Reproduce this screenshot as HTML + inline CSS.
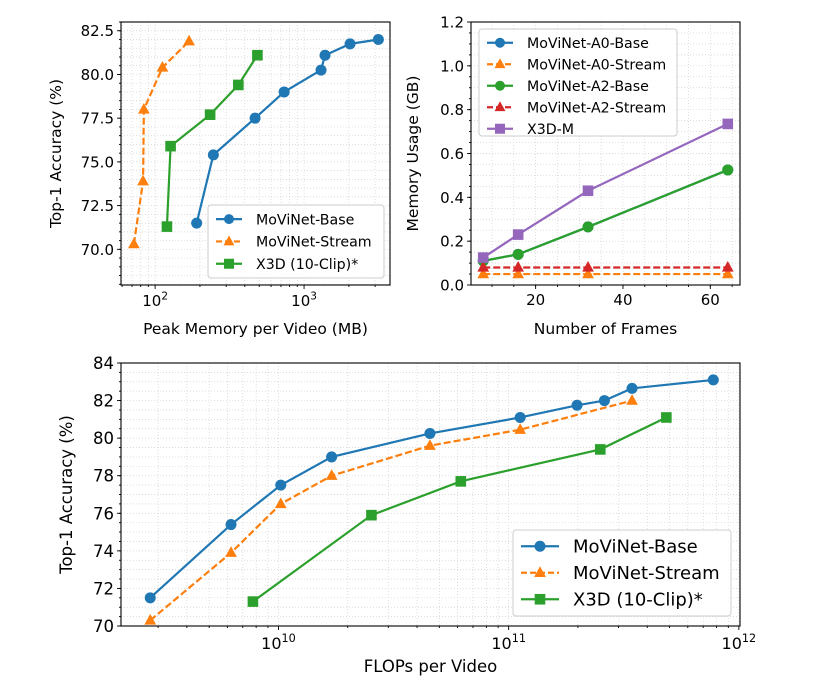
<!DOCTYPE html>
<html><head><meta charset="utf-8"><style>
body{margin:0;background:#fff}
svg{display:block;font-family:"DejaVu Sans","Liberation Sans",sans-serif}
</style></head><body>
<svg id="fig" width="832" height="685" viewBox="0 0 832 685" xmlns="http://www.w3.org/2000/svg"></svg>
<script>
// ---- Chart 1: accuracy vs peak memory ----
const memBaseX=[190,246,469,735,1300,1383,2037,3155];
const memBaseY=[71.5,75.4,77.5,79.0,80.25,81.1,81.75,82.0];
const memStreamX=[72,83,84,112,169];
const memStreamY=[70.3,73.9,78.0,80.4,81.9];
const memX3dX=[120,127,234,362,486];
const memX3dY=[71.3,75.9,77.7,79.4,81.1];
const memYTicks=[70.0,72.5,75.0,77.5,80.0,82.5];
// ---- Chart 2: memory vs frames ----
const frames=[8,16,32,64];
const a0Base=[0.11,0.14,0.265,0.525];
const a0Stream=[0.05,0.05,0.05,0.05];
const a2Base=[0.11,0.14,0.265,0.525];
const a2Stream=[0.08,0.08,0.08,0.08];
const x3dM=[0.125,0.23,0.43,0.735];
const frameTicks=[20,40,60];
const gbTicks=[0.0,0.2,0.4,0.6,0.8,1.0,1.2];
// ---- Chart 3: accuracy vs FLOPs (log10) ----
const flBaseX=[9.443,9.794,10.01,10.231,10.658,11.05,11.297,11.416,11.536,11.889];
const flBaseY=[71.5,75.4,77.5,79.0,80.25,81.1,81.75,82.0,82.65,83.1];
const flStreamX=[9.443,9.794,10.01,10.231,10.658,11.05,11.536];
const flStreamY=[70.3,73.9,76.5,78.0,79.6,80.45,82.0];
const flX3dX=[9.889,10.404,10.792,11.398,11.685];
const flX3dY=[71.3,75.9,77.7,79.4,81.1];
const flYTicks=[70,72,74,76,78,80,82,84];

const NS="http://www.w3.org/2000/svg";
const svg=document.getElementById('fig');
function el(tag,attrs,parent){const e=document.createElementNS(NS,tag);for(const k in attrs)e.setAttribute(k,attrs[k]);(parent||svg).appendChild(e);return e;}
const BLUE="#1f77b4",ORANGE="#ff7f0e",GREEN="#2ca02c",RED="#d62728",PURPLE="#9467bd";

function marker(g,type,x,y,c,s){
  let m;
  if(type==='o')m=el('circle',{cx:x,cy:y,r:s},g);
  else if(type==='s')m=el('rect',{x:x-s,y:y-s,width:2*s,height:2*s},g);
  else m=el('polygon',{points:`${x},${y-s*1.15} ${x-s*1.05},${y+s*0.75} ${x+s*1.05},${y+s*0.75}`},g);
  m.setAttribute('fill',c);
  
  
}
function series(name,xs,ys,sx,sy,c,type,dash,ms){
  const g=el('g',{});
  
  
  const pts=xs.map((v,i)=>sx(v)+','+sy(ys[i])).join(' ');
  const pl=el('polyline',{points:pts,fill:'none',stroke:c,'stroke-width':2.2,'stroke-dasharray':dash?'7,3':'none'},g);
  
  
  xs.forEach((v,i)=>marker(g,type,sx(v),sy(ys[i]),c,ms));
}
function frame(name,L,T,R,B){
  const r=el('rect',{x:L,y:T,width:R-L,height:B-T,fill:'none',stroke:'#000','stroke-width':1.1});
  
  
}
function grid(x1,y1,x2,y2){el('line',{x1,y1,x2,y2,stroke:'#d0d0d0','stroke-width':0.7,'stroke-dasharray':'1,2'});}
function tick(x1,y1,x2,y2){el('line',{x1,y1,x2,y2,stroke:'#000','stroke-width':0.9});}
function text(s,x,y,size,anchor,name,rot){
  const t=el('text',{x,y,'font-size':size,'text-anchor':anchor||'middle',fill:'#000'});
  if(rot)t.setAttribute('transform',`rotate(-90 ${x} ${y})`);
  t.textContent=s;
  
  
  return t;
}
function supText(base,exp,x,y,size,name){
  const t=el('text',{x,y,'font-size':size,'text-anchor':'middle',fill:'#000'});
  
  
  const a=el('tspan',{},t);a.textContent=base;
  const b=el('tspan',{dy:-size*0.45,'font-size':size*0.7},t);b.textContent=exp;
}
function legend(name,x,y,w,h,items,fs,rowH,lineW){
  const g=el('g',{});
  
  
  el('rect',{x,y,width:w,height:h,rx:3,fill:'#fff','fill-opacity':0.85,stroke:'#ccc','stroke-width':1},g);
  items.forEach((it,i)=>{
    const cy=y+rowH*(i+0.5)+3;
    el('line',{x1:x+8,y1:cy,x2:x+8+lineW,y2:cy,stroke:it.c,'stroke-width':2.2,'stroke-dasharray':it.d?'6,3':'none'},g);
    marker(g,it.m,x+8+lineW/2,cy,it.c,it.s);
    const t=el('text',{x:x+16+lineW+6,y:cy+fs*0.36,'font-size':fs,fill:'#000'},g);
    t.textContent=it.n;
    
    
  });
}

// ===== Chart 1 =====
(function(){
  const L=121,R=390,T=22,B=285;
  const lx0=Math.log10(59),lx1=Math.log10(3776),y0=67.96,y1=83.0;
  const sx=v=>L+(Math.log10(v)-lx0)/(lx1-lx0)*(R-L);
  const sy=v=>B-(v-y0)/(y1-y0)*(B-T);
  const minors=[];for(let d=10;d<=1000;d*=10)for(let k=1;k<10;k++){const v=k*d;if(v>=59&&v<=3776)minors.push(v);}
  minors.forEach(v=>grid(sx(v),T,sx(v),B));
  for(let v=68;v<=83;v+=0.5)grid(L,sy(v),R,sy(v));
  minors.forEach(v=>{const maj=(v===100||v===1000);tick(sx(v),B,sx(v),B+(maj?4:2));});
  for(let v=68;v<=83;v+=0.5)tick(L-2,sy(v),L,sy(v));
  memYTicks.forEach(v=>{tick(L-4,sy(v),L,sy(v));text(v.toFixed(1),L-7,sy(v)+5.5,15,'end','y-tick-label');});
  supText('10','2',sx(100),B+21,15,'x-tick-label');
  supText('10','3',sx(1000),B+21,15,'x-tick-label');
  series('movinet-base',memBaseX,memBaseY,sx,sy,BLUE,'o',false,5.5);
  series('movinet-stream',memStreamX,memStreamY,sx,sy,ORANGE,'^',true,5.6);
  series('x3d-10clip',memX3dX,memX3dY,sx,sy,GREEN,'s',false,5.3);
  frame('axes-memory-accuracy',L,T,R,B);
  text('Top-1 Accuracy (%)',61,(T+B)/2,15.5,'middle','y-axis-title',true);
  text('Peak Memory per Video (MB)',(L+R)/2,334,15.5,'middle','x-axis-title');
  legend('legend-top-left',208,205,176,73,[{n:'MoViNet-Base',c:BLUE,m:'o',s:5},{n:'MoViNet-Stream',c:ORANGE,m:'^',s:5.2,d:1},{n:'X3D (10-Clip)*',c:GREEN,m:'s',s:5}],14.2,22.3,26);
})();

// ===== Chart 2 =====
(function(){
  const L=471,R=740,T=22,B=285;
  const x0=5.2,x1=66.8,y0=0,y1=1.2;
  const sx=v=>L+(v-x0)/(x1-x0)*(R-L);
  const sy=v=>B-(v-y0)/(y1-y0)*(B-T);
  for(let v=10;v<=65;v+=5)grid(sx(v),T,sx(v),B);
  for(let v=0.05;v<1.2;v+=0.05)grid(L,sy(v),R,sy(v));
  for(let v=10;v<=65;v+=5)tick(sx(v),B,sx(v),B+2);
  for(let v=0.05;v<1.2;v+=0.05)tick(L-2,sy(v),L,sy(v));
  frameTicks.forEach(v=>{tick(sx(v),B,sx(v),B+4);text(String(v),sx(v),B+20,15,'middle','x-tick-label');});
  gbTicks.forEach(v=>{tick(L-4,sy(v),L,sy(v));text(v.toFixed(1),L-7,sy(v)+5.5,15,'end','y-tick-label');});
  series('movinet-a0-base',frames,a0Base,sx,sy,BLUE,'o',false,5.5);
  series('movinet-a0-stream',frames,a0Stream,sx,sy,ORANGE,'^',true,5.6);
  series('movinet-a2-base',frames,a2Base,sx,sy,GREEN,'o',false,5.5);
  series('movinet-a2-stream',frames,a2Stream,sx,sy,RED,'^',true,5.6);
  series('x3d-m',frames,x3dM,sx,sy,PURPLE,'s',false,5.3);
  frame('axes-frames-memory',L,T,R,B);
  text('Memory Usage (GB)',418,(T+B)/2,15.5,'middle','y-axis-title',true);
  text('Number of Frames',(L+R)/2,334,15.5,'middle','x-axis-title');
  legend('legend-top-right',479,29,198,107,[{n:'MoViNet-A0-Base',c:BLUE,m:'o',s:5},{n:'MoViNet-A0-Stream',c:ORANGE,m:'^',s:5.2,d:1},{n:'MoViNet-A2-Base',c:GREEN,m:'o',s:5},{n:'MoViNet-A2-Stream',c:RED,m:'^',s:5.2,d:1},{n:'X3D-M',c:PURPLE,m:'s',s:5}],14.2,21.5,26);
})();

// ===== Chart 3 =====
(function(){
  const L=121,R=740,T=363,B=626;
  const lx0=9.316,lx1=12.005,y0=70,y1=84;
  const sx=v=>L+(v-lx0)/(lx1-lx0)*(R-L);
  const sy=v=>B-(v-y0)/(y1-y0)*(B-T);
  const minors=[];for(let e=9;e<=11;e++)for(let k=1;k<10;k++){const v=e+Math.log10(k);if(v>=lx0&&v<=lx1)minors.push(v);}minors.push(12);
  minors.forEach(v=>grid(sx(v),T,sx(v),B));
  for(let v=70.5;v<84;v+=0.5)grid(L,sy(v),R,sy(v));
  minors.forEach(v=>{const maj=Math.abs(v-Math.round(v))<1e-9;tick(sx(v),B,sx(v),B+(maj?4:2));});
  for(let v=70;v<=84;v+=0.5)tick(L-2,sy(v),L,sy(v));
  flYTicks.forEach(v=>{tick(L-4,sy(v),L,sy(v));text(String(v),L-7,sy(v)+6,16.5,'end','y-tick-label');});
  supText('10','10',sx(10),B+23,16,'x-tick-label');
  supText('10','11',sx(11),B+23,16,'x-tick-label');
  supText('10','12',sx(12),B+23,16,'x-tick-label');
  series('movinet-base',flBaseX,flBaseY,sx,sy,BLUE,'o',false,5.5);
  series('movinet-stream',flStreamX,flStreamY,sx,sy,ORANGE,'^',true,5.6);
  series('x3d-10clip',flX3dX,flX3dY,sx,sy,GREEN,'s',false,5.3);
  frame('axes-flops-accuracy',L,T,R,B);
  text('Top-1 Accuracy (%)',72,(T+B)/2,16.5,'middle','y-axis-title',true);
  text('FLOPs per Video',(L+R)/2,672,16.5,'middle','x-axis-title');
  legend('legend-bottom',513,530,218,86,[{n:'MoViNet-Base',c:BLUE,m:'o',s:5.5},{n:'MoViNet-Stream',c:ORANGE,m:'^',s:5.6,d:1},{n:'X3D (10-Clip)*',c:GREEN,m:'s',s:5.3}],18,26.5,38);
})();
</script>
</body></html>
